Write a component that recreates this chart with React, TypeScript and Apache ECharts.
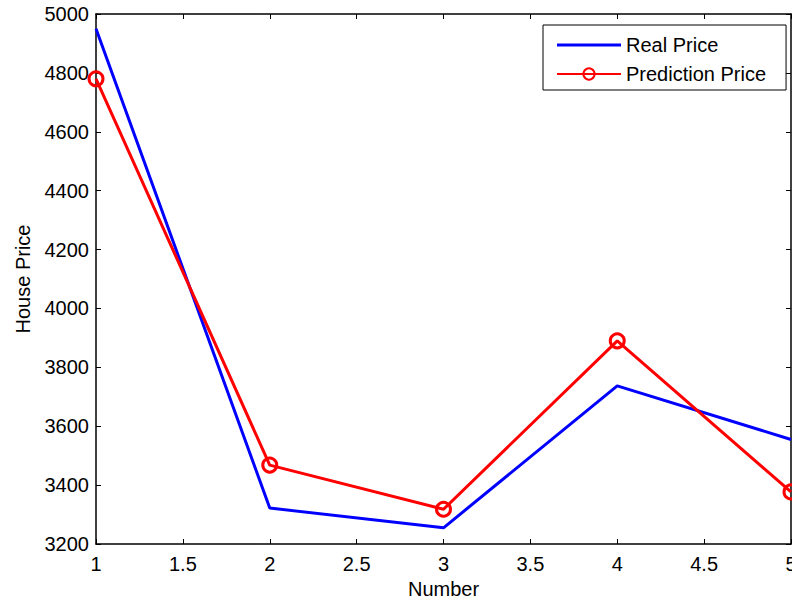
import React, { useEffect, useRef } from "react";
import * as echarts from "echarts";

const numbers = [1, 2, 3, 4, 5];
const realPrice = [4950, 3322, 3255, 3737, 3555];
const predictionPrice = [4780, 3468, 3318, 3890, 3377];
const seriesNames = ["Real Price", "Prediction Price"];

const FONT = "'Liberation Sans', Arial, sans-serif";

export default function App() {
  const ref = useRef<HTMLDivElement>(null);
  useEffect(() => {
    if (!ref.current) return;
    const chart = echarts.init(ref.current, null, { renderer: "svg" });
    const axisLine = { show: true, lineStyle: { color: "#000", width: 1.5 } };
    const tick = { show: true, inside: true, length: 5, lineStyle: { color: "#000", width: 1 } };
    chart.setOption({
      animation: false,
      backgroundColor: "#fff",
      textStyle: { fontFamily: FONT },
      grid: {
        left: 96,
        top: 14,
        right: 1,
        bottom: 57,
        containLabel: false,
        outerBoundsMode: "none",
      },
      legend: {
        left: 543,
        top: 25,
        orient: "vertical",
        data: [
          { name: seriesNames[0], icon: "path://M0,0h64v3h-64z" },
          { name: seriesNames[1] },
        ],
        symbolKeepAspect: true,
        itemWidth: 64,
        itemHeight: 14,
        itemGap: 9,
        padding: [10, 20, 6, 13],
        borderColor: "#000",
        borderWidth: 1,
        backgroundColor: "#fff",
        textStyle: { fontFamily: FONT, fontSize: 20, color: "#000" },
      },
      xAxis: [
        {
          type: "value",
          min: 1,
          max: 5,
          interval: 0.5,
          name: "Number",
          nameLocation: "middle",
          nameGap: 35,
          nameTextStyle: { fontFamily: FONT, fontSize: 20, color: "#000" },
          axisLine,
          axisTick: tick,
          axisLabel: { fontFamily: FONT, fontSize: 20, color: "#000", margin: 10 },
          splitLine: { show: false },
        },
        {
          type: "value",
          position: "top",
          min: 1,
          max: 5,
          interval: 0.5,
          axisLine,
          axisTick: tick,
          axisLabel: { show: false },
          splitLine: { show: false },
        },
      ],
      yAxis: [
        {
          type: "value",
          min: 3200,
          max: 5000,
          interval: 200,
          name: "House Price",
          nameLocation: "middle",
          nameGap: 63,
          nameTextStyle: { fontFamily: FONT, fontSize: 20, color: "#000" },
          axisLine,
          axisTick: tick,
          axisLabel: {
            fontFamily: FONT,
            fontSize: 20,
            color: "#000",
            margin: 7,
            formatter: (v: number) => String(v),
          },
          splitLine: { show: false },
        },
        {
          type: "value",
          position: "right",
          min: 3200,
          max: 5000,
          interval: 200,
          axisLine,
          axisTick: tick,
          axisLabel: { show: false },
          splitLine: { show: false },
        },
      ],
      series: [
        {
          name: seriesNames[0],
          type: "line",
          data: numbers.map((x, i) => [x, realPrice[i]]),
          symbol: "none",
          lineStyle: { color: "#0000ff", width: 3 },
          itemStyle: { color: "#0000ff" },
          z: 2,
        },
        {
          name: seriesNames[1],
          type: "line",
          data: numbers.map((x, i) => [x, predictionPrice[i]]),
          symbol: "circle",
          symbolSize: 14,
          showSymbol: true,
          lineStyle: { color: "#ff0000", width: 3 },
          itemStyle: { color: "transparent", borderColor: "#ff0000", borderWidth: 3 },
          z: 3,
        },
      ],
    });
    return () => chart.dispose();
  }, []);
  return (
    <div
      ref={ref}
      style={{ position: "fixed", left: 0, top: 0, width: 792, height: 601 }}
    />
  );
}
